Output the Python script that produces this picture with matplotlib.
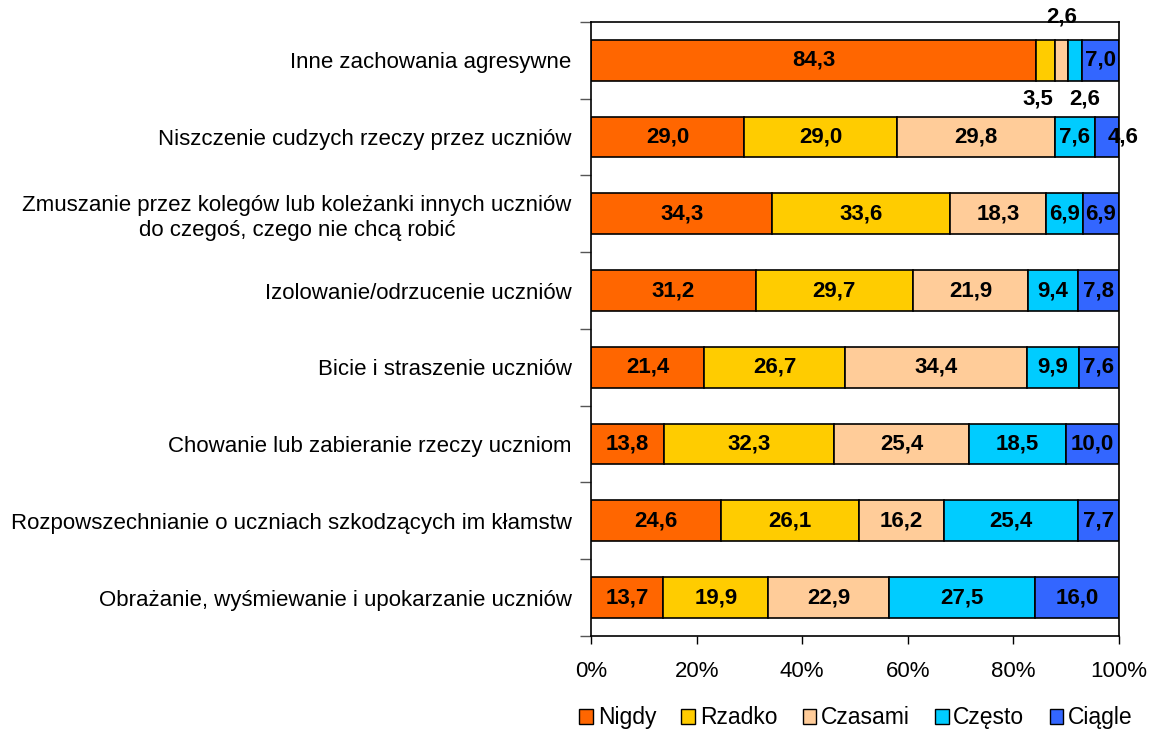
import numpy as np
import matplotlib.pyplot as plt
from matplotlib.patches import Patch

plt.rcParams['font.family'] = ['Liberation Sans', 'DejaVu Sans']

categories = [
    'Inne zachowania agresywne',
    'Niszczenie cudzych rzeczy przez uczniów',
    'Zmuszanie przez kolegów lub koleżanki innych uczniów\ndo czegoś, czego nie chcą robić',
    'Izolowanie/odrzucenie uczniów',
    'Bicie i straszenie uczniów',
    'Chowanie lub zabieranie rzeczy uczniom',
    'Rozpowszechnianie o uczniach szkodzących im kłamstw',
    'Obrażanie, wyśmiewanie i upokarzanie uczniów',
]
series = ['Nigdy', 'Rzadko', 'Czasami', 'Często', 'Ciągle']
nigdy = [84.3, 29.0, 34.3, 31.2, 21.4, 13.8, 24.6, 13.7]
rzadko = [3.5, 29.0, 33.6, 29.7, 26.7, 32.3, 26.1, 19.9]
czasami = [2.6, 29.8, 18.3, 21.9, 34.4, 25.4, 16.2, 22.9]
czesto = [2.6, 7.6, 6.9, 9.4, 9.9, 18.5, 25.4, 27.5]
ciagle = [7.0, 4.6, 6.9, 7.8, 7.6, 10.0, 7.7, 16.0]
colors = ['#FF6600', '#FFCC00', '#FFCC99', '#00CCFF', '#3366FF']

data = np.array([nigdy, rzadko, czasami, czesto, ciagle])
n = len(categories)
ypos = np.arange(n)[::-1]

fig = plt.figure(figsize=(11.49, 7.31), dpi=100)
ax = fig.add_axes([0.5144, 0.130, 0.4595, 0.840])

left = np.zeros(n)
for i, name in enumerate(series):
    ax.barh(ypos, data[i], left=left, height=0.53, color=colors[i],
            edgecolor='black', linewidth=1.2, label=name)
    for j in range(n):
        v = data[i][j]
        cx = left[j] + v / 2
        cy = ypos[j]
        if j == 0 and i in (1, 2, 3):
            # small segments in the top bar: labels outside the bar
            if i == 2:
                cy = ypos[j] + 0.56
            else:
                cy = ypos[j] - 0.5
                cx += -1.5 if i == 1 else 1.8
        if j == 1 and i == 4:
            cx += 3.0
        ax.text(cx, cy, f'{v:.1f}'.replace('.', ','), ha='center', va='center',
                fontsize=16, fontweight='bold', color='black', clip_on=False)
    left += data[i]

ax.set_xlim(0, 100)
ax.set_ylim(-0.5, n - 0.5)
ax.set_xticks(np.arange(0, 101, 20))
ax.set_xticklabels([f'{t}%' for t in range(0, 101, 20)], fontsize=16)
ax.tick_params(axis='x', length=6, width=1, pad=12)

ax.set_yticks(ypos)
ax.set_yticklabels(categories, fontsize=16, multialignment='center')
ax.tick_params(axis='y', which='major', length=0, pad=14)
ax.set_yticks(np.arange(-0.5, n, 1.0), minor=True)
ax.tick_params(axis='y', which='minor', length=8, width=1, color='#555555')

for s in ax.spines.values():
    s.set_linewidth(1.2)
    s.set_color('black')

handles = [Patch(facecolor=c, edgecolor='black', label=s) for c, s in zip(colors, series)]
fig.legend(handles=handles, loc='center', bbox_to_anchor=(0.745, 0.018), ncol=5,
           frameon=False, fontsize=16.5, handlelength=0.6, handleheight=0.6,
           handletextpad=0.2, columnspacing=1.1)

fig.savefig('out.png', dpi=100)
